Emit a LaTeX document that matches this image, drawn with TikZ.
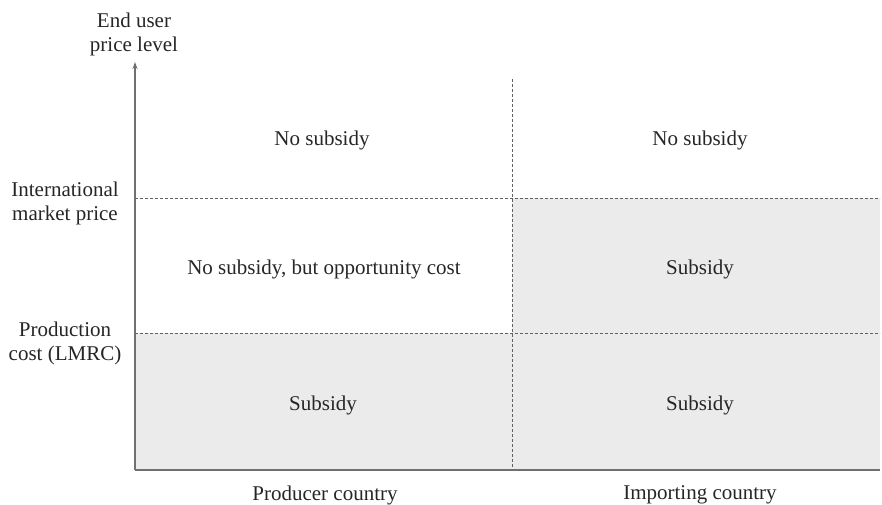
\documentclass[tikz,border=0pt]{standalone}
\usepackage{fontspec}
\setmainfont{Liberation Serif}
\usetikzlibrary{arrows.meta}
\definecolor{cellgray}{HTML}{EBEBEB}
\definecolor{axisgray}{HTML}{707070}
\definecolor{dashgray}{HTML}{606060}
\begin{document}
\begin{tikzpicture}[x=1pt,y=-1pt,
  lbl/.style={font=\fontsize{21}{24}\selectfont, text=black!85, align=center, inner sep=0pt},
  grid/.style={draw=dashgray, dash pattern=on 3pt off 2pt, line width=0.9pt},
  axis/.style={draw=axisgray, line width=1.3pt}]
\useasboundingbox (0,0) rectangle (882,505);
\fill[cellgray] (512,198) rectangle (880,470);
\fill[cellgray] (135,333) rectangle (512,470);
\coordinate (o) at (135,470);
\coordinate (ytop) at (135,62);
\coordinate (xend) at (880,470);
\coordinate (vtop) at (512,79);
\coordinate (vbot) at (512,470);
\coordinate (ia) at (135,198);
\coordinate (ib) at (880,198);
\coordinate (pa) at (135,333);
\coordinate (pb) at (880,333);
\draw[grid] (vtop) -- (vbot);
\draw[grid] (ia) -- (ib);
\draw[grid] (pa) -- (pb);
\draw[axis, -{Stealth[length=7pt,width=5pt]}] (o) -- (ytop);
\draw[axis] (o) -- (xend);
\node[lbl] (yl) at (134,34) {End user\\price level};
\node[lbl] (il) at (65,203) {International\\market price};
\node[lbl] (pl) at (65,343) {Production\\cost (LMRC)};
\node[lbl] (a1) at (322,140) {No subsidy};
\node[lbl] (b1) at (700,140) {No subsidy};
\node[lbl] (a2) at (324,269) {No subsidy, but opportunity cost};
\node[lbl] (b2) at (700,269) {Subsidy};
\node[lbl] (a3) at (323,405) {Subsidy};
\node[lbl] (b3) at (700,405) {Subsidy};
\node[lbl] (xl1) at (325,495) {Producer country};
\node[lbl] (xl2) at (700,495) {Importing country};
\end{tikzpicture}
\end{document}
